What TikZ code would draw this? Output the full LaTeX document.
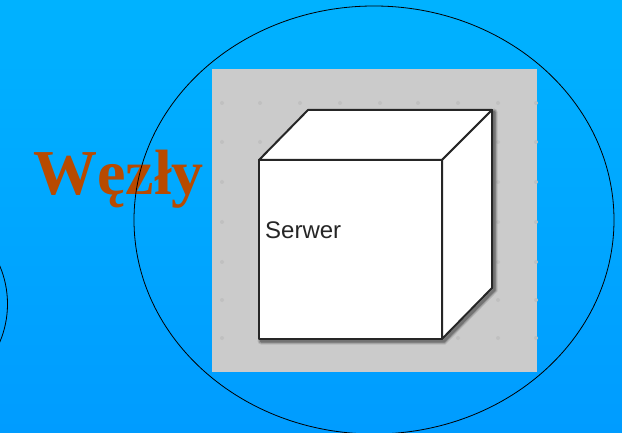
\documentclass[tikz,border=0pt]{standalone}
\usepackage{fontspec}
\setmainfont{Liberation Serif}
\newfontfamily\labelfont{Liberation Sans}
\definecolor{bgtop}{RGB}{0,178,255}
\definecolor{bgbot}{RGB}{0,156,255}
\definecolor{panel}{RGB}{203,203,203}
\definecolor{griddot}{RGB}{192,192,192}
\definecolor{titlecol}{RGB}{184,74,0}
\tikzset{
  title/.style={font=\fontsize{64}{64}\selectfont\bfseries, text=titlecol, inner sep=0pt, anchor=base west},
  boxlabel/.style={font=\labelfont\fontsize{24}{24}\selectfont, text=black!85, inner sep=0pt, anchor=base west},
  boxedge/.style={draw=black!85, line width=2pt, line join=round},
  ring/.style={draw=black, line width=0.8pt},
  softshadow/.style={draw=black, line cap=round}
}
\begin{document}
\begin{tikzpicture}[x=1pt,y=-1pt]
\useasboundingbox (0,0) rectangle (622,433);
\shade[top color=bgtop,bottom color=bgbot] (0,0) rectangle (622,433);
\fill[panel] (212,69) rectangle (537,372);
\foreach \x in {222,260,300,340,380,418,458,498,536}
  \foreach \y in {103,142,182,222,262,300,338}
    \fill[griddot] (\x,\y) circle (2pt);
% soft shadow
\foreach \w/\a in {7/0.10,5/0.15,3/0.25}{
  \draw[softshadow,line width=\w pt,opacity=\a] (494,112) -- (494,290) -- (444,341) -- (261,341);
}
% cube
\filldraw[fill=white,boxedge] (259,160) -- (308,110) -- (492,110) -- (442,160) -- cycle;
\filldraw[fill=white,boxedge] (442,160) -- (492,110) -- (492,288) -- (442,339) -- cycle;
\filldraw[fill=white,boxedge] (259,160) rectangle (442,339);
\node[boxlabel] (serwer) at (265,239) {Serwer};
\node[title] (wezly) at (33,195) {W\kern0ptę\kern0ptz\kern0ptł\kern0pty};
% rings
\draw[ring] (374,220) ellipse [x radius=240, y radius=214];
\draw[ring] (-90,304) ellipse [x radius=97.5, y radius=97.5];
\end{tikzpicture}
\end{document}
